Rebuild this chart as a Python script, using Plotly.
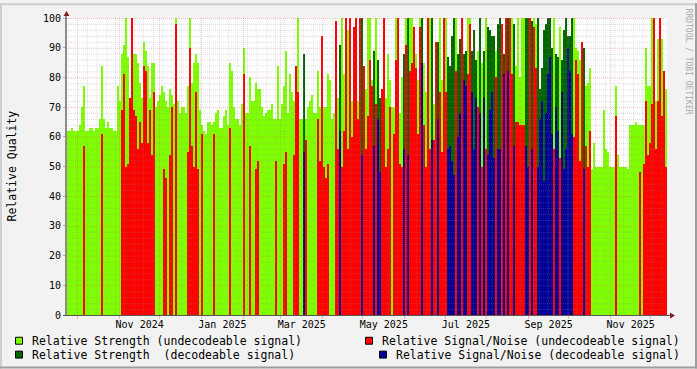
import plotly.graph_objects as go
import pandas as pd

# ---------------- data (one value per ~1.5 day bin) ----------------
strength = [
    62, 62, 63, 62, 62, 62, 64, 70, 77, 62, 62, 63, 63, 62, 63, 63, 66, 84, 66, 63,
    65, 63, 63, 62, 62, 77, 72, 88, 91, 100, 87, 72, 82, 88, 88, 85, 78, 73, 92, 89,
    84, 73, 85, 85, 70, 72, 74, 77, 75, 72,
    70, 76, 74, 71, 100, 72, 68, 70, 70, 68, 77, 100, 78, 85, 88, 85, 69, 64, 62, 61,
    65, 65, 64, 65, 68, 69, 63, 63, 67, 69, 64, 85, 82, 70, 66, 66, 64, 71, 90, 68,
    68, 80, 72, 72, 78, 76, 76, 70, 67, 68,
    69, 69, 71, 66, 66, 84, 66, 71, 77, 89, 68, 81, 75, 72, 84, 100, 66, 66, 88, 66,
    70, 72, 74, 68, 68, 82, 70, 77, 70, 70, 81, 79, 66, 68, 68, 73, 91, 100, 81, 81,
    96, 70, 72, 75, 100, 72, 75, 100, 72, 76,
    100, 100, 79, 89, 100, 86, 73, 71, 72, 73, 88, 79, 70, 70, 100, 100, 68, 80, 88, 100,
    100, 100, 100, 94, 88, 79, 100, 100, 85, 75, 72, 100, 100, 71, 79, 92, 100, 79, 78, 100,
    87, 84, 94, 100, 100, 88, 93, 100, 88, 89,
    100, 100, 89, 96, 86, 89, 100, 85, 89, 100, 97, 96, 94, 94, 89, 98, 100, 89, 88, 100,
    100, 100, 100, 98, 84, 100, 80, 100, 100, 100, 100, 100, 99, 100, 98, 100, 76, 83, 96, 98,
    100, 100, 90, 100, 88, 87, 97, 86, 96,
    100, 94, 94, 100, 100, 90, 89, 86, 90, 90, 77, 78, 83, 49, 58, 50, 50, 50, 50, 69,
    56, 55, 50, 50, 50, 77, 54, 50, 50, 50, 50, 49, 64, 64, 64, 65, 64, 64, 64, 64,
    90, 77, 77, 100, 100, 72, 93, 72, 93, 72, 76,
]

N = None
snr = [
    N, N, N, N, N, N, N, N, 57, N, N, N, N, N, N, N, N, 61, N, N,
    N, N, N, N, N, N, N, 69, 81, 50, 51, 73, 100, 69, 67, 56, 65, 58, 84, 82,
    58, 69, 54, 75, N, N, N, N, 49, 46,
    N, 54, 70, N, 98, N, N, N, N, N, 55, 90, 57, 50, 75, 49, N, 61, N, N,
    N, N, N, 61, N, N, N, N, N, N, N, 63, N, N, N, N, N, N, 81, N,
    N, 57, N, N, 49, 52, N, N, N, N,
    N, N, N, N, 52, N, N, N, 51, 55, N, N, N, 54, 84, 75, N, N, 55, 59,
    N, N, N, N, N, 66, 52, 94, 50, 46, 51, N, N, N, 99, 56, 62, 50, 62, 100,
    56, 100, 60, 97, 100, 66, 100, 54, 84, 56,
    67, 86, 77, 57, 71, 66, 48, 76, 100, 50, 56, 70, N, 61, 86, 100, 51, 50, 56, 91,
    54, 82, 85, 97, 83, 61, 97, 85, 64, 50, 100, 56, 59, 59, 92, 66, 75, 55, 100, 75,
    56, 57, 52, 47, 82, 60, 68, 100, 79, 77,
    81, 98, 75, 56, 73, 70, 68, 50, 73, 56, 54, 69, 75, 53, 80, 56, 56, 98, 81, 100,
    82, 100, 81, 57, 65, 65, 64, 64, 64, 57, 50, 100, 56, 97, 83, 50, 66, 72, 45, 68,
    81, 87, 61, 56, 70, 62, 53, 75, 49,
    56, 90, 82, 61, 60, 86, 81, 52, 92, 49, 57, 50, 62, N, N, N, N, N, N, N,
    N, N, N, N, N, 67, N, N, N, N, N, N, N, N, N, N, N, 48, N, 51,
    72, 54, 58, 71, 100, 56, 72, 100, 67, 82, 50,
]

decodeable = [
    0, 0, 0, 0, 0, 0, 0, 0, 0, 0, 0, 0, 0, 0, 0, 0, 0, 0, 0, 0,
    0, 0, 0, 0, 0, 0, 0, 0, 0, 0, 0, 0, 0, 0, 0, 0, 0, 0, 0, 0,
    0, 0, 0, 0, 0, 0, 0, 0, 0, 0,
    0, 0, 0, 0, 0, 0, 0, 0, 0, 0, 0, 0, 0, 0, 0, 0, 0, 0, 0, 0,
    0, 0, 0, 0, 0, 0, 0, 0, 0, 0, 0, 0, 0, 0, 0, 0, 0, 0, 0, 0,
    0, 0, 0, 0, 0, 0, 0, 0, 0, 0,
    0, 0, 0, 0, 0, 0, 0, 0, 0, 0, 0, 0, 0, 0, 0, 0, 0, 0, 1, 0,
    0, 0, 0, 0, 0, 0, 0, 0, 0, 0, 0, 0, 0, 0, 0, 0, 1, 0, 0, 0,
    0, 0, 0, 0, 0, 0, 0, 1, 0, 0,
    0, 0, 0, 1, 0, 1, 1, 0, 0, 0, 0, 0, 0, 0, 0, 0, 0, 0, 1, 0,
    1, 0, 0, 0, 0, 0, 0, 1, 0, 0, 0, 0, 1, 0, 0, 1, 0, 0, 0, 0,
    1, 1, 1, 1, 0, 1, 1, 0, 1, 1,
    0, 0, 1, 1, 1, 0, 1, 0, 1, 0, 1, 1, 1, 1, 0, 1, 1, 0, 1, 0,
    1, 0, 0, 1, 0, 0, 0, 0, 0, 1, 1, 0, 1, 0, 0, 1, 1, 1, 1, 1,
    1, 1, 1, 0, 1, 1, 0, 1, 1,
    1, 1, 1, 1, 0, 0, 0, 0, 0, 1, 0, 0, 0, 0, 0, 0, 0, 0, 0, 0,
    0, 0, 0, 0, 0, 0, 0, 0, 0, 0, 0, 0, 0, 0, 0, 0, 0, 0, 0, 0,
    0, 0, 0, 0, 0, 0, 0, 0, 0, 0, 0,
]

tick_months = ["2024-11", "2025-01", "2025-03", "2025-05", "2025-07", "2025-09", "2025-11"]
tick_labels = ["Nov 2024", "Jan 2025", "Mar 2025", "May 2025", "Jul 2025", "Sep 2025", "Nov 2025"]

legend_labels = [
    "Relative Strength (undecodeable signal)",
    "Relative Signal/Noise (undecodeable signal)",
    "Relative Strength  (decodeable signal)",
    "Relative Signal/Noise (decodeable signal)",
]
series_colors = ["#7FFF00", "#FF0000", "#006600", "#000099"]

# ---------------- geometry ----------------
W, H = 697, 369
L, R, T, B = 67, 30, 15, 54
PW, PH = W - L - R, H - T - B
start = pd.Timestamp("2024-09-23")
end = pd.Timestamp("2025-12-13")
span = end - start
n = len(strength)
binw = span / n
centers = [start + binw * (i + 0.5) for i in range(n)]
width_ms = binw.total_seconds() * 1000.0


def px_x(p):
    return (p - L) / PW


def px_y(p):
    return (T + PH - p) / PH


def date_px(d):
    return L + (d - start) / span * PW


def pick(vals, flag):
    return [v if (d == flag and v is not None) else None for v, d in zip(vals, decodeable)]


fig = go.Figure()
order = [(strength, 0, 0), (strength, 1, 2), (snr, 0, 1), (snr, 1, 3)]
for vals, flag, ci in order:
    fig.add_trace(go.Bar(
        x=centers, y=pick(vals, flag), width=width_ms,
        marker=dict(color=series_colors[ci], line=dict(width=0)),
        name=legend_labels[ci], showlegend=False, hoverinfo="skip",
    ))

shapes = []
MINOR = "rgba(143,143,143,0.32)"
MAJOR = "rgba(222,79,79,0.38)"
VMINOR = "rgba(143,143,143,0.22)"
VMAJOR = "rgba(222,79,79,0.30)"
DASH = "1px,1px"

# horizontal grid (above bars, as rrdtool does)
for v in range(2, 101, 2):
    yv = v - 0.5 * 100 / PH
    shapes.append(dict(type="line", xref="paper", yref="y", x0=0, x1=1, y0=yv, y1=yv,
                       line=dict(color=MAJOR if v % 10 == 0 else MINOR, width=1, dash=DASH),
                       layer="above"))


def vline(d, color):
    p = int(date_px(d)) + 0.5
    shapes.append(dict(type="line", xref="paper", yref="paper", x0=px_x(p), x1=px_x(p),
                       y0=0, y1=1, line=dict(color=color, width=1, dash=DASH), layer="above"))


months = pd.date_range("2024-10-01", end, freq="MS")
month_set = set(months)
weeks = pd.date_range(start, end, freq="W-TUE")
for d in weeks:
    if d not in month_set:
        vline(d, VMINOR)
for d in months:
    vline(d, VMAJOR)

# axes with arrows
ARROW = "#801F1F"
shapes.append(dict(type="line", xref="paper", yref="paper", x0=px_x(66), x1=px_x(66),
                   y0=px_y(316), y1=px_y(11), line=dict(color="#8C8C8C", width=2), layer="above"))
shapes.append(dict(type="line", xref="paper", yref="paper", x0=px_x(63), x1=px_x(670),
                   y0=px_y(315.5), y1=px_y(315.5), line=dict(color="#555555", width=1), layer="above"))
shapes.append(dict(type="path", xref="paper", yref="paper",
                   path=f"M {px_x(63.5)} {px_y(13)} L {px_x(69.5)} {px_y(13)} L {px_x(66.5)} {px_y(8)} Z",
                   fillcolor=ARROW, line=dict(width=0), layer="above"))
shapes.append(dict(type="path", xref="paper", yref="paper",
                   path=f"M {px_x(670)} {px_y(312.5)} L {px_x(670)} {px_y(318.5)} L {px_x(675)} {px_y(315.5)} Z",
                   fillcolor=ARROW, line=dict(width=0), layer="above"))

# small tick marks below the x axis at month starts
for d in months:
    p = int(date_px(d)) + 0.5
    shapes.append(dict(type="line", xref="paper", yref="paper", x0=px_x(p), x1=px_x(p),
                       y0=px_y(316), y1=px_y(319), line=dict(color=MAJOR, width=1), layer="above"))

# frame (3D shade)
shapes += [
    dict(type="rect", xref="paper", yref="paper", x0=px_x(0), x1=px_x(W), y0=px_y(0), y1=px_y(2),
         fillcolor="#CFCFCF", line=dict(width=0), layer="above"),
    dict(type="rect", xref="paper", yref="paper", x0=px_x(0), x1=px_x(2), y0=px_y(0), y1=px_y(H),
         fillcolor="#CFCFCF", line=dict(width=0), layer="above"),
    dict(type="rect", xref="paper", yref="paper", x0=px_x(0), x1=px_x(W), y0=px_y(H - 2), y1=px_y(H),
         fillcolor="#9E9E9E", line=dict(width=0), layer="above"),
    dict(type="rect", xref="paper", yref="paper", x0=px_x(W - 2), x1=px_x(W), y0=px_y(0), y1=px_y(H),
         fillcolor="#9E9E9E", line=dict(width=0), layer="above"),
]

# legend (rrdtool style, two columns)
FONT = "DejaVu Sans Mono"
annotations = []
legend_pos = [(15, 30, 341), (365, 380, 341), (15, 30, 355), (379, 394, 355)]
for (sx, tx, cy), lab, col in zip(legend_pos, legend_labels, series_colors):
    shapes.append(dict(type="rect", xref="paper", yref="paper",
                       x0=px_x(sx + 0.5), x1=px_x(sx + 7.5), y0=px_y(cy - 3.5), y1=px_y(cy + 3.5),
                       fillcolor=col, line=dict(color="black", width=1), layer="above"))
    annotations.append(dict(xref="paper", yref="paper", x=px_x(tx), y=px_y(cy), text=lab,
                            showarrow=False, xanchor="left", yanchor="middle",
                            font=dict(family=FONT, size=11.5, color="black")))

annotations.append(dict(xref="paper", yref="paper", x=px_x(11), y=px_y(165), text="Relative Quality",
                        textangle=-90, showarrow=False, xanchor="center", yanchor="middle",
                        font=dict(family=FONT, size=11.5, color="black")))
annotations.append(dict(xref="paper", yref="paper", x=px_x(688), y=px_y(59),
                        text="RRDTOOL / TOBI OETIKER", textangle=90, showarrow=False,
                        xanchor="center", yanchor="middle",
                        font=dict(family=FONT, size=8, color="#A8A8A8")))

tickvals = []
for m in tick_months:
    a = pd.Timestamp(m + "-01")
    b = a + pd.offsets.MonthBegin(1)
    tickvals.append(a + (b - a) / 2)

fig.update_layout(
    width=W, height=H, margin=dict(l=L, r=R, t=T, b=B, pad=0),
    paper_bgcolor="#F2F2F2", plot_bgcolor="#FFFFFF",
    barmode="overlay", bargap=0, showlegend=False,
    font=dict(family=FONT, size=10, color="black"),
    shapes=shapes, annotations=annotations,
)
fig.update_xaxes(type="date", range=[start, end], tickmode="array", tickvals=tickvals,
                 ticktext=tick_labels, showgrid=False, zeroline=False, showline=False,
                 ticks="", ticklabelstandoff=2,
                 tickfont=dict(family=FONT, size=10, color="black"), fixedrange=True)
fig.update_yaxes(range=[0, 100], tickmode="array", tickvals=list(range(0, 101, 10)),
                 showgrid=False, zeroline=False, showline=False, ticks="outside", ticklen=3,
                 tickcolor="rgba(222,79,79,0.6)", tickfont=dict(family=FONT, size=10, color="black"),
                 fixedrange=True)

fig.write_html("out.html")
